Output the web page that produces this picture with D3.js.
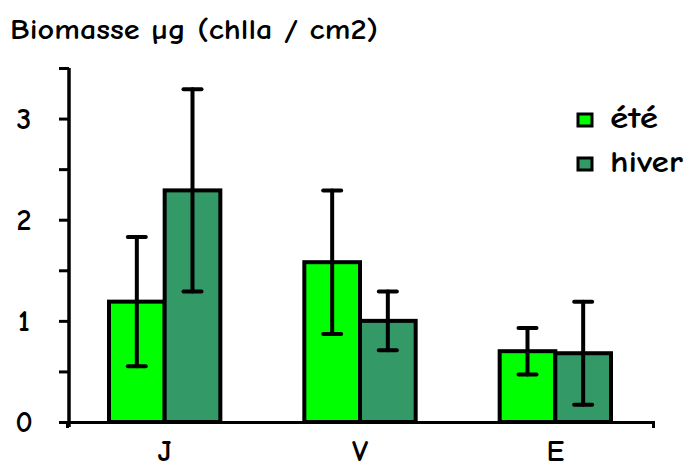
<!DOCTYPE html>
<html>
<head>
<meta charset="utf-8">
<script src="https://cdn.jsdelivr.net/npm/d3@7"></script>
<style>
  html, body { margin: 0; padding: 0; background: #fff; }
  svg text { font-family: "Comic Sans MS", "Comic Neue", "Lato", "DejaVu Sans", sans-serif; fill: #000; font-weight: bold; }
</style>
</head>
<body>
<svg id="chart" width="687" height="470"></svg>
<script>
const categories = ["J", "V", "E"];
const seriesNames = ["été", "hiver"];
const eteValues = [1.19, 1.58, 0.70];
const eteErrors = [0.64, 0.71, 0.23];
const hiverValues = [2.29, 1.00, 0.68];
const hiverErrors = [1.00, 0.29, 0.51];
const yTickValues = [0, 0.5, 1, 1.5, 2, 2.5, 3, 3.5];
const yTickLabels = ["0", "", "1", "", "2", "", "3", ""];
const titleText = "Biomasse µg (chlla / cm2)";

const colors = ["#00ff00", "#339966"];
const svg = d3.select("#chart");

const y = d3.scaleLinear().domain([0, 3.5]).range([422, 68]);
const x0 = d3.scaleBand().domain(categories).range([67, 653]).paddingInner(0.43).paddingOuter(0.215);
const x1 = d3.scaleBand().domain(seriesNames).range([0, x0.bandwidth()]);

const data = categories.map((c, i) => ({
  cat: c,
  items: [
    { s: seriesNames[0], v: eteValues[i], e: eteErrors[i] },
    { s: seriesNames[1], v: hiverValues[i], e: hiverErrors[i] }
  ]
}));

// Bars
const g = svg.append("g");
data.forEach(d => {
  d.items.forEach((it, j) => {
    g.append("rect")
      .attr("x", x0(d.cat) + x1(it.s))
      .attr("y", y(it.v))
      .attr("width", x1.bandwidth())
      .attr("height", y(0) - y(it.v))
      .attr("fill", colors[j])
      .attr("stroke", "#000")
      .attr("stroke-width", 4);
  });
});

// Error bars
data.forEach(d => {
  d.items.forEach((it) => {
    const cx = x0(d.cat) + x1(it.s) + x1.bandwidth() / 2;
    const eg = g.append("g").attr("stroke", "#000").attr("stroke-width", 4).attr("stroke-linecap", "round");
    eg.append("line").attr("x1", cx).attr("x2", cx).attr("y1", y(it.v + it.e)).attr("y2", y(it.v - it.e));
    eg.append("line").attr("x1", cx - 9).attr("x2", cx + 9).attr("y1", y(it.v + it.e)).attr("y2", y(it.v + it.e));
    eg.append("line").attr("x1", cx - 9).attr("x2", cx + 9).attr("y1", y(it.v - it.e)).attr("y2", y(it.v - it.e));
  });
});

// X axis
const xAxis = svg.append("g").attr("transform", "translate(0,422)")
  .call(d3.axisBottom(x0).tickSizeInner(0).tickSizeOuter(6).tickPadding(18));
xAxis.select(".domain").attr("stroke", "#000").attr("stroke-width", 3);
xAxis.selectAll("text").attr("font-size", 30);

// Y axis
const yAxis = svg.append("g").attr("transform", "translate(69,0)")
  .call(d3.axisLeft(y).tickValues(yTickValues).tickFormat((d, i) => yTickLabels[i])
    .tickSizeInner(10).tickSizeOuter(0).tickPadding(22));
yAxis.select(".domain").attr("stroke", "#000").attr("stroke-width", 3.5)
  .attr("d", "M0," + y(3.5) + "V427");
yAxis.selectAll(".tick line").attr("stroke", "#000").attr("stroke-width", 3);
yAxis.selectAll("text").attr("font-size", 30).attr("text-anchor", "middle").attr("x", -45);

// Title
svg.append("text").attr("x", 10).attr("y", 39).attr("font-size", 28)
  .attr("textLength", 368).attr("lengthAdjust", "spacingAndGlyphs")
  .text(titleText);

// Legend
const legend = svg.append("g");
const legendWidths = [48, 73];
seriesNames.forEach((s, i) => {
  const ly = 120 + i * 44;
  legend.append("rect").attr("x", 578).attr("y", ly - 6).attr("width", 14).attr("height", 12)
    .attr("fill", colors[i]).attr("stroke", "#000").attr("stroke-width", 3);
  legend.append("text").attr("x", 610).attr("y", ly + 8).attr("font-size", 30)
    .attr("textLength", legendWidths[i]).attr("lengthAdjust", "spacingAndGlyphs").text(s);
});
</script>
</body>
</html>
